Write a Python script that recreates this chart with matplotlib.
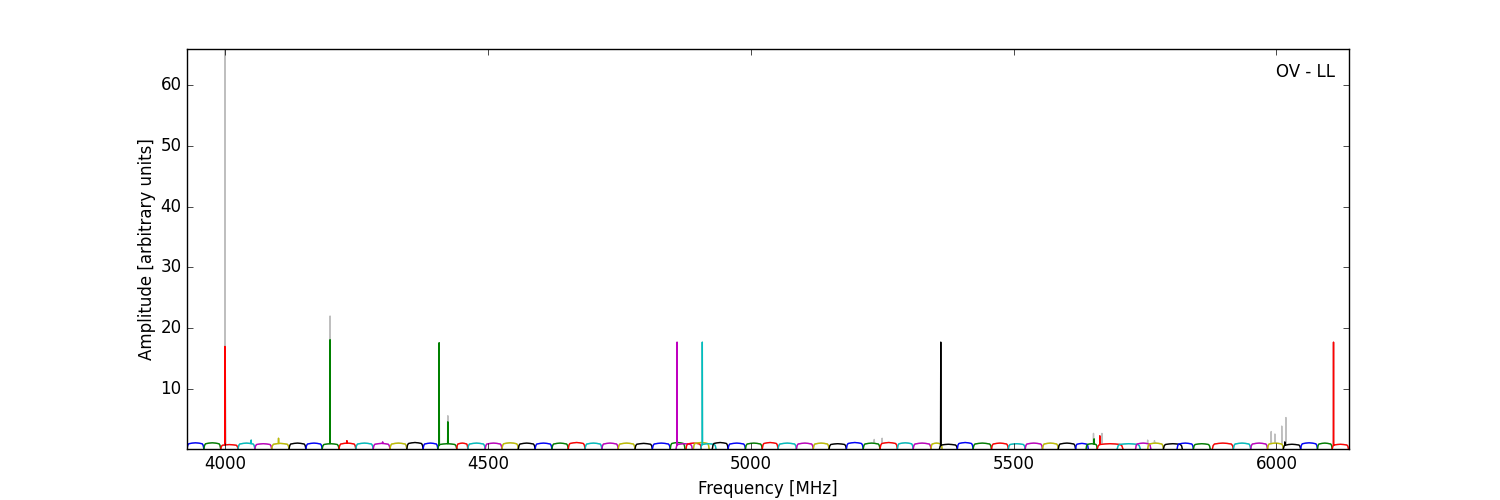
import numpy as np
import matplotlib

matplotlib.use("Agg")
import matplotlib.pyplot as plt

plt.style.use("classic")

# sub-band edges [MHz], colours and plateau level of each bandpass
band_lo = [3928, 3960, 3992, 4025, 4057, 4089, 4122, 4154, 4185, 4217,
           4249, 4282, 4314, 4346, 4377, 4405, 4441, 4462, 4495, 4527,
           4558, 4590, 4622, 4653, 4685, 4717, 4748, 4780, 4813, 4847,
           4858, 4877, 4891, 4905, 4927, 4957, 4990, 5022, 5052, 5087,
           5119, 5149, 5182, 5214, 5246, 5279, 5309, 5343, 5359, 5393,
           5423, 5458, 5490, 5522, 5555, 5585, 5618, 5638, 5659, 5697,
           5732, 5755, 5785, 5811, 5842, 5878, 5918, 5951, 5983, 6013,
           6046, 6078, 6106]
band_hi = [3960, 3992, 4025, 4057, 4089, 4122, 4154, 4185, 4217, 4249,
           4282, 4314, 4346, 4377, 4405, 4441, 4462, 4495, 4527, 4558,
           4590, 4622, 4653, 4685, 4717, 4748, 4780, 4813, 4847, 4875,
           4889, 4906, 4921, 4934, 4957, 4990, 5022, 5052, 5087, 5119,
           5149, 5182, 5214, 5246, 5279, 5309, 5343, 5364, 5393, 5423,
           5458, 5490, 5522, 5555, 5585, 5618, 5642, 5659, 5708, 5741,
           5761, 5785, 5821, 5842, 5874, 5918, 5951, 5983, 6013, 6046,
           6078, 6106, 6137]
band_col = ["b", "g", "r", "c", "m", "y", "k"] * 4 + ["b", "g", "m", "r", "y", "c"] + \
           ["k", "b", "g", "r", "c", "m", "y"] * 3 + \
           ["k", "b", "g", "r", "c", "m", "y"] * 2 + ["k", "b", "g", "r"]
band_lvl = [1.05, 1.05, 0.75, 1.0, 0.9, 0.95, 1.0, 1.0, 0.9, 1.0,
            1.0, 0.95, 1.0, 1.1, 1.0, 0.9, 1.0, 1.0, 1.0, 1.05,
            1.0, 1.0, 1.0, 1.1, 1.0, 1.0, 1.0, 0.95, 1.0, 1.1,
            0.9, 1.0, 1.1, 0.9, 1.1, 1.0, 1.0, 1.1, 1.0, 1.0,
            1.0, 0.9, 1.1, 1.0, 1.1, 1.05, 1.0, 1.0, 0.8, 1.1,
            1.0, 1.0, 0.9, 1.0, 1.0, 1.0, 0.95, 0.9, 0.9, 0.9,
            1.0, 1.0, 0.9, 1.0, 0.9, 1.0, 1.0, 1.0, 1.0, 0.8,
            1.05, 1.0, 0.8]

# normalised bandpass shape across one sub-band
shape_pos = [0.0, 0.04, 0.1, 0.3, 0.5, 0.7, 0.9, 0.96, 1.0]
shape_val = [0.13, 0.7, 0.95, 1.05, 1.1, 1.05, 0.95, 0.7, 0.13]

# narrow features in the coloured spectrum
spike_f = [4000, 4200, 4407.5, 4424, 4860, 4908, 5361.5, 6108.5,
           4050, 4102, 4232, 4300, 5653, 5664, 6016]
spike_a = [17.0, 18.1, 17.6, 4.6, 17.7, 17.7, 17.7, 17.7,
           1.6, 1.9, 1.5, 1.3, 1.8, 2.3, 1.3]
spike_c = ["r", "g", "g", "g", "m", "c", "k", "r",
           "c", "y", "r", "m", "g", "r", "k"]

# features only present in the grey spectrum
grey_f = [4000, 4200, 4424, 5235, 5250, 5652, 5668, 5755, 5768,
          5990, 5997, 6010, 6018]
grey_a = [65.9, 22.0, 5.6, 1.7, 1.9, 2.7, 2.7, 1.6, 1.5,
          3.0, 2.6, 3.9, 5.3]


def add_spike(x, y, f, a):
    base = np.interp(f, x, y)
    x = np.concatenate([x, [f - 0.4, f, f + 0.4]])
    y = np.concatenate([y, [base, a, base]])
    order = np.argsort(x)
    return x[order], y[order]


bands = []
for lo, hi, col, lvl in zip(band_lo, band_hi, band_col, band_lvl):
    x = lo + np.array(shape_pos) * (hi - lo)
    y = 0.13 + (np.array(shape_val) - 0.13) * lvl
    for f, a, c in zip(spike_f, spike_a, spike_c):
        if c == col and lo <= f <= hi:
            x, y = add_spike(x, y, f, a)
    bands.append((x, y, col))

grey = []
used = set()
for x, y, col in bands:
    gx, gy = x.copy(), y.copy()
    for n, (f, a) in enumerate(zip(grey_f, grey_a)):
        if n not in used and gx[0] <= f <= gx[-1]:
            gx, gy = add_spike(gx, gy, f, a)
            used.add(n)
    grey.append((gx, gy))

fig, ax = plt.subplots(figsize=(15, 5), dpi=100)
fig.patch.set_facecolor("white")
fig.subplots_adjust(left=0.1247, right=0.899, top=0.902, bottom=0.102)

for gx, gy in grey:
    ax.plot(gx, gy, color="0.75", lw=1)
for x, y, col in bands:
    ax.plot(x, y, color=col, lw=1)

allx = np.concatenate([g[0] for g in grey])
ally = np.concatenate([g[1] for g in grey])
ax.set_xlim(allx.min(), allx.max())
ax.set_ylim(ally.min(), ally.max())

ax.set_xlabel("Frequency [MHz]")
ax.set_ylabel("Amplitude [arbitrary units]", labelpad=3)
ax.text(0.988, 0.965, "OV - LL", transform=ax.transAxes,
        ha="right", va="top", fontsize=12)

fig.savefig("out.png", facecolor="white")
